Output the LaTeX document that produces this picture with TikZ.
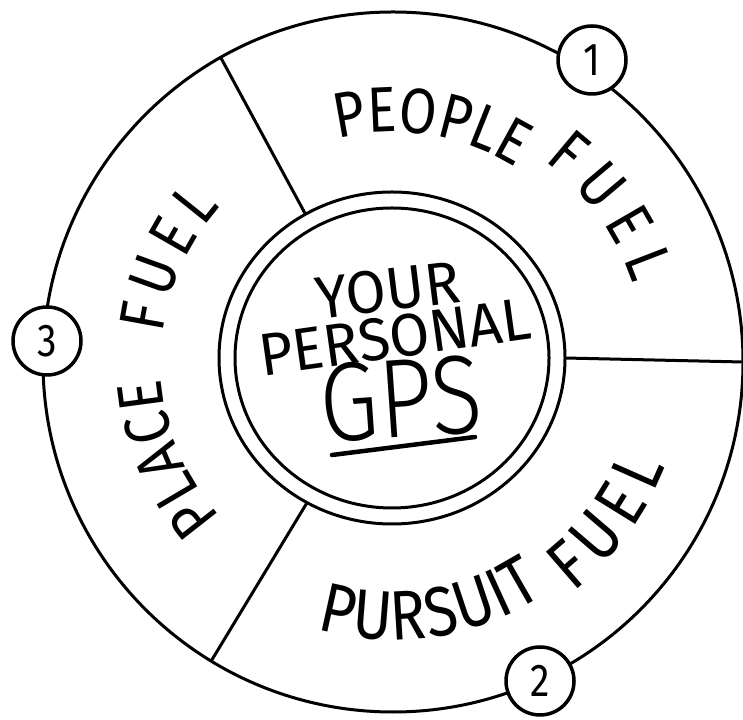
\documentclass[tikz,border=0pt]{standalone}
\usepackage{fontspec}
\setmainfont{Fira Sans}
\newfontfamily\hand[FakeStretch=0.85]{Fira Sans}
\newfontfamily\handwide[FakeStretch=0.97]{Fira Sans}
\newfontfamily\handlight[FakeStretch=0.85]{Fira Sans Light}
\usetikzlibrary{decorations.text,calc}
\begin{document}
\begin{tikzpicture}[x=1pt,y=1pt,
  ring/.style={line width=3pt},
  divider/.style={line width=3pt},
  numc/.style={circle,draw,line width=3.5pt,fill=white,minimum size=68pt,inner sep=0pt,
    font=\hand\fontsize{46}{46}\selectfont},
  arctext/.style={decorate,decoration={text along path,text align={fit to path}}},
  midtext/.style={inner sep=0pt}
]
\useasboundingbox (0,0) rectangle (743,719);
\coordinate (C) at (393,357);
\coordinate (T) at (392,361);
% rings
\draw[ring] (C) circle[radius=350];
\draw[ring] (T) ellipse[x radius=173,y radius=166];
\draw[ring] (T) ellipse[x radius=157,y radius=150];
% dividers
\coordinate (d1i) at ($(T)+(120:173 and 166)$);
\coordinate (d1o) at ($(C)+(119.5:350)$);
\coordinate (d2i) at ($(T)+(0:173 and 166)$);
\coordinate (d2o) at ($(C)+(0:350)$);
\coordinate (d3i) at ($(T)+(240.6:173 and 166)$);
\coordinate (d3o) at ($(C)+(238.7:350)$);
\draw[divider] (d1i) -- (d1o);
\draw[divider] (d2i) -- (d2o);
\draw[divider] (d3i) -- (d3o);
% curved labels
\path[arctext,decoration={text={|\hand\fontsize{64}{64}\selectfont|PEOPLE}}]
  ($(C)+(104:230)$) arc[start angle=104,end angle=58,radius=230];
\path[arctext,decoration={text={|\hand\fontsize{64}{64}\selectfont|FUEL}}]
  ($(C)+(53:252)$) arc[start angle=53,end angle=18,radius=252];
\path[arctext,decoration={text={|\hand\fontsize{64}{64}\selectfont|PLACE}}]
  ($(C)+(222:232)$) arc[start angle=222,end angle=184,radius=232];
\path[arctext,decoration={text={|\hand\fontsize{64}{64}\selectfont|FUEL}}]
  ($(C)+(173:232)$) arc[start angle=173,end angle=138,radius=232];
\path[arctext,decoration={text={|\hand\fontsize{70}{70}\selectfont|PURSUIT}}]
  ($(C)+(254:278)$) arc[start angle=254,end angle=303,radius=278];
\path[arctext,decoration={text={|\hand\fontsize{70}{70}\selectfont|FUEL}}]
  ($(C)+(308:292)$) arc[start angle=308,end angle=339,radius=292];
% centre text
\node[midtext,rotate=7,font=\handwide\fontsize{60}{60}\selectfont] (your) at (388,429) {YOUR};
\node[midtext,rotate=8,font=\handwide\fontsize{60}{60}\selectfont] (personal) at (395,382) {PERSONAL};
\node[midtext,rotate=4,font=\handlight\fontsize{112}{112}\selectfont] (gps) at (401,320) {GPS};
\coordinate (u1) at (332,264);
\coordinate (u2) at (475,282);
\draw[line width=4.5pt,line cap=round] (u1) -- (u2);
% numbered circles
\node[numc] (n1) at (592,659) {1};
\node[numc] (n2) at (540,38) {2};
\node[numc] (n3) at (47,378) {3};
\end{tikzpicture}
\end{document}
